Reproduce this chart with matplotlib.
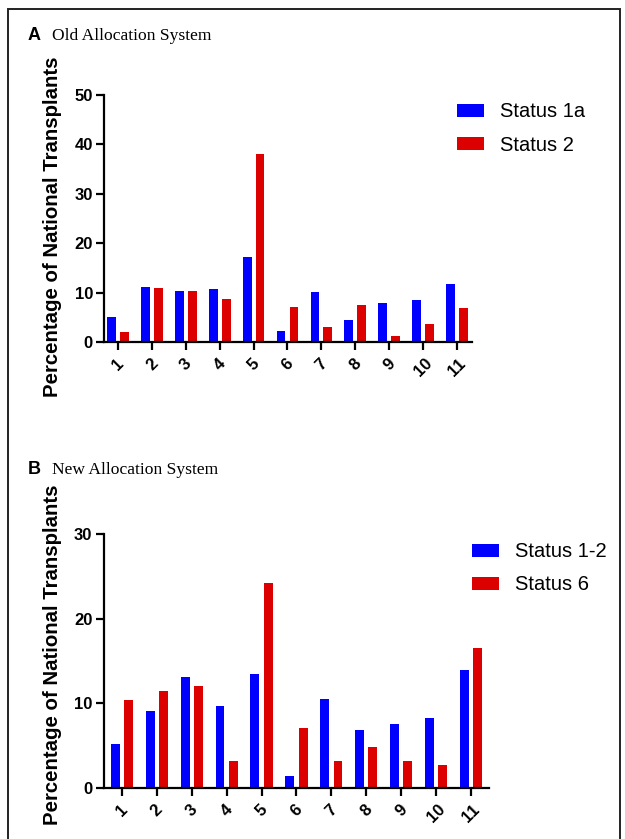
import matplotlib
matplotlib.use("Agg")
import matplotlib.pyplot as plt
import matplotlib.patches as mpatches
import numpy as np

# ---- data ----
regions = [1, 2, 3, 4, 5, 6, 7, 8, 9, 10, 11]
old_status1a = [5.0, 11.1, 10.3, 10.8, 17.3, 2.3, 10.1, 4.5, 7.9, 8.5, 11.7]
old_status2 = [2.0, 11.0, 10.3, 8.8, 38.0, 7.1, 3.0, 7.4, 1.2, 3.6, 6.8]
new_status12 = [5.2, 9.1, 13.1, 9.7, 13.5, 1.4, 10.5, 6.8, 7.6, 8.3, 13.9]
new_status6 = [10.4, 11.5, 12.1, 3.2, 24.2, 7.1, 3.2, 4.9, 3.2, 2.7, 16.5]
labels_old = ["Status 1a", "Status 2"]
labels_new = ["Status 1-2", "Status 6"]
ylabel = "Percentage of National Transplants"

BLUE = "#0000FF"
RED = "#DC0000"
W, H = 625, 839

fig = plt.figure(figsize=(W / 100, H / 100), dpi=100)
SANS = ["Liberation Sans", "DejaVu Sans"]
SERIF = ["Liberation Serif", "DejaVu Serif"]


def px_axes(left, right, top, bottom):
    return fig.add_axes([left / W, (H - bottom) / H, (right - left) / W, (bottom - top) / H])


def draw_panel(ax, a, b, labs, ymax, yticks, xlim, legend_xy):
    x = np.array(regions, dtype=float)
    bw = 0.255
    off = 0.19
    ax.bar(x - off, a, width=bw, color=BLUE, label=labs[0])
    ax.bar(x + off, b, width=bw, color=RED, label=labs[1])
    ax.set_xlim(*xlim)
    ax.set_ylim(0, ymax)
    ax.set_yticks(yticks)
    ax.set_xticks(regions)
    ax.set_xticklabels([str(r) for r in regions], rotation=45, ha="center", va="top",
                       fontsize=12, fontweight="bold", family=SANS)
    ax.set_yticklabels([str(t) for t in yticks], fontsize=12, fontweight="bold", family=SANS)
    for s in ["top", "right"]:
        ax.spines[s].set_visible(False)
    for s in ["left", "bottom"]:
        ax.spines[s].set_linewidth(1.6)
    ax.tick_params(axis="both", width=1.6, length=6, direction="out")
    ax.tick_params(axis="x", pad=4)
    ax.tick_params(axis="y", pad=2)
    lx, ly = legend_xy
    ax.legend(loc="center left", bbox_to_anchor=(lx / W, (H - ly) / H),
              bbox_transform=fig.transFigure, frameon=False, borderpad=0,
              handlelength=1.33, handleheight=0.62, handletextpad=0.8,
              labelspacing=0.7, prop={"family": SANS, "size": 14.5})


axA = px_axes(104, 472, 95, 342)
draw_panel(axA, old_status1a, old_status2, labels_old, 50, [0, 10, 20, 30, 40, 50],
           (0.58, 11.45), (446.7, 128.5))

axB = px_axes(103.5, 489.4, 534, 788)
draw_panel(axB, new_status12, new_status6, labels_new, 30, [0, 10, 20, 30],
           (0.47, 11.53), (462.3, 568.3))

# y labels
fig.text(53 / W, (H - 226.5) / H, ylabel, rotation=90, ha="center", va="center",
         fontsize=14.7, fontweight="bold", family=SANS)
fig.text(53 / W, (H - 654.7) / H, ylabel, rotation=90, ha="center", va="center",
         fontsize=14.7, fontweight="bold", family=SANS)

# panel titles
fig.text(28 / W, (H - 39.5) / H, "A", ha="left", va="baseline", fontsize=13,
         fontweight="bold", family=SANS)
fig.text(51.7 / W, (H - 39.5) / H, "Old Allocation System", ha="left", va="baseline",
         fontsize=12.6, family=SERIF)
fig.text(28 / W, (H - 473.5) / H, "B", ha="left", va="baseline", fontsize=13,
         fontweight="bold", family=SANS)
fig.text(51.7 / W, (H - 473.5) / H, "New Allocation System", ha="left", va="baseline",
         fontsize=12.6, family=SERIF)

# outer frame
frame = mpatches.Rectangle((7.5 / W, -0.02), (620 - 7.5) / W, (H - 9) / H + 0.02,
                           transform=fig.transFigure, fill=False, edgecolor="#222222",
                           linewidth=1.4, clip_on=False)
fig.patches.append(frame)

fig.savefig("out.png", dpi=100)
